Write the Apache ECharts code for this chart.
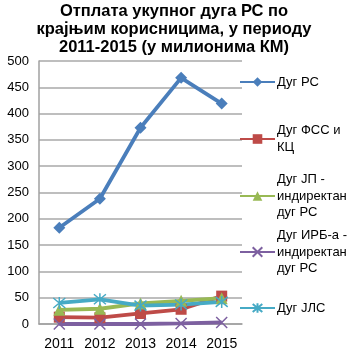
<!DOCTYPE html>
<html>
<head>
<meta charset="utf-8">
<script src="https://cdn.jsdelivr.net/npm/echarts@6/dist/echarts.min.js"></script>
<style>
  html, body { margin: 0; padding: 0; background: #fff; }
  #chart { width: 349px; height: 356px; }
</style>
</head>
<body>
<div id="chart"></div>
<script>
// Years on the horizontal axis
var years = ['2011', '2012', '2013', '2014', '2015'];

// Debt repayment by end user, millions KM
var dugRS = [183, 238, 373, 468, 419];
var dugFSS = [13, 12, 20, 28, 53];
var dugJP = [27, 29, 39, 44, 49];
var dugIRB = [0, 0, 0, 1, 3];
var dugJLS = [40, 47, 35, 37, 42];

var seriesNames = [
  'Дуг РС',
  'Дуг ФСС и\nКЦ',
  'Дуг ЈП -\nиндиректан\nдуг РС',
  'Дуг ИРБ-а -\nиндиректан\nдуг РС',
  'Дуг ЈЛС'
];

var colors = ['#4a7ebb', '#be4b48', '#98b954', '#7d60a0', '#46aac5'];

var FONT = '"Liberation Sans", Arial, sans-serif';
var LINE_H = 16.5;

// Star/cross marker outlines (stroked paths)
var crossPath = 'path://M0,0L10,10M10,0L0,10';
var starPath = 'path://M0,0L10,10M10,0L0,10M5,-1L5,11';

function lineSeries(idx, data, symbol, size) {
  var stroked = symbol.indexOf('path://') === 0;
  return {
    name: seriesNames[idx],
    type: 'line',
    data: data,
    symbol: symbol,
    symbolSize: size,
    showAllSymbol: true,
    lineStyle: { color: colors[idx], width: 3.8 },
    itemStyle: {
      color: stroked ? 'rgba(0,0,0,0)' : colors[idx],
      borderColor: colors[idx],
      borderWidth: stroked ? 1.5 : 0
    },
    emphasis: { disabled: true }
  };
}

// One legend per entry so each wrapped label can sit at its own height,
// with the icon lined up to the first text line.
var iconCenters = [82, 139, 196, 252, 308];
var legends = seriesNames.map(function (name, i) {
  var n = name.split('\n').length;
  return {
    data: [name],
    left: 239,
    top: iconCenters[i] - (2 * n - 1) * LINE_H / 2,
    padding: 0,
    itemWidth: 35,
    itemHeight: 12,
    itemGap: 0,
    textStyle: {
      fontFamily: FONT,
      fontSize: 13,
      color: '#000',
      lineHeight: LINE_H,
      padding: [(n - 1) * LINE_H, 0, 0, -3]
    },
    selectedMode: false
  };
});

var chart = echarts.init(document.getElementById('chart'), null, { renderer: 'canvas' });
chart.setOption({
  animation: false,
  backgroundColor: '#fff',
  title: {
    text: 'Отплата укупног дуга РС по\nкрајњим корисницима, у периоду\n2011-2015 (у милионима КМ)',
    left: 174,
    textAlign: 'center',
    top: 2,
    padding: 0,
    textStyle: {
      fontFamily: FONT,
      fontSize: 16.5,
      fontWeight: 'bold',
      color: '#000',
      lineHeight: 18
    }
  },
  legend: legends,
  grid: { left: 39, right: 107, top: 61, bottom: 32, containLabel: false },
  xAxis: {
    type: 'category',
    data: years,
    boundaryGap: true,
    axisLine: { lineStyle: { color: '#a0a0a0', width: 1.5 } },
    axisTick: { show: false },
    axisLabel: { fontFamily: FONT, fontSize: 14, color: '#000', margin: 13 }
  },
  yAxis: {
    type: 'value',
    min: 0,
    max: 500,
    interval: 50,
    axisLine: { show: true, lineStyle: { color: '#a0a0a0', width: 1.5 } },
    axisTick: { show: false },
    splitLine: { lineStyle: { color: '#a8a8a8', width: 1.5 } },
    axisLabel: { fontFamily: FONT, fontSize: 13, color: '#000', margin: 10 }
  },
  series: [
    lineSeries(0, dugRS, 'diamond', 12),
    lineSeries(1, dugFSS, 'rect', 11),
    lineSeries(2, dugJP, 'triangle', 12),
    lineSeries(3, dugIRB, crossPath, 11),
    lineSeries(4, dugJLS, starPath, 12)
  ]
});
</script>
</body>
</html>
